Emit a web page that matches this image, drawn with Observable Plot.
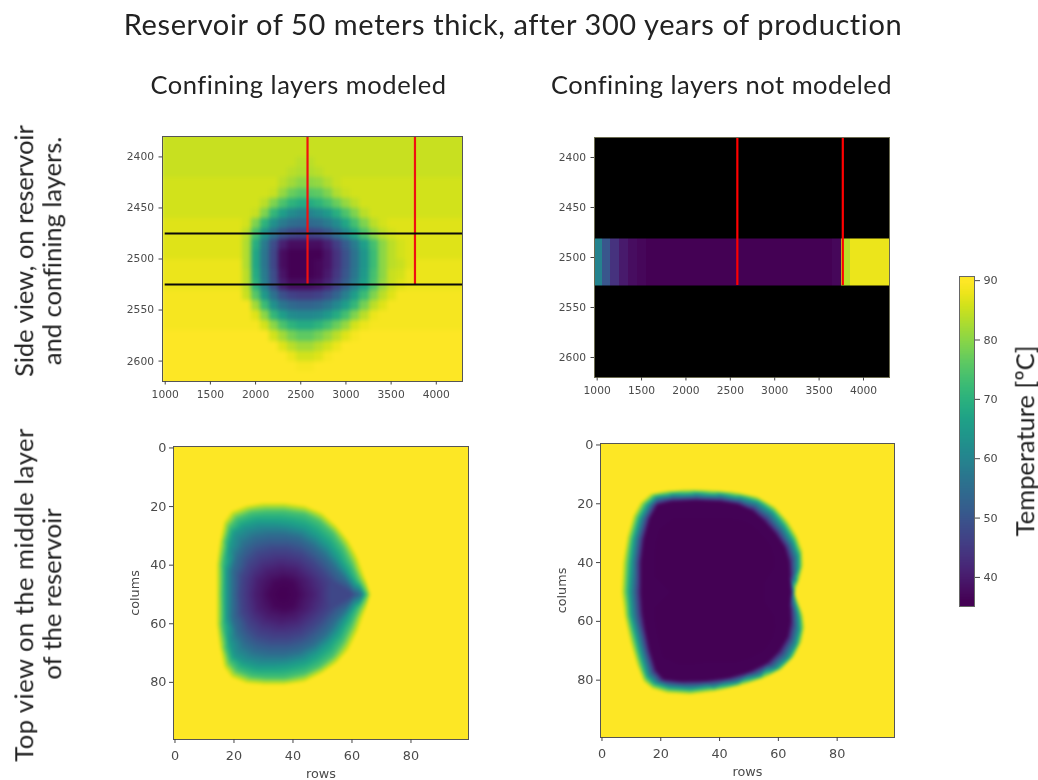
<!DOCTYPE html>
<html>
<head>
<meta charset="utf-8">
<script src="https://cdn.jsdelivr.net/npm/d3@7"></script>
<script src="https://cdn.jsdelivr.net/npm/@observablehq/plot@0.6"></script>
<style>
html,body{margin:0;padding:0;background:#fff;}
#page{position:relative;width:1038px;height:780px;overflow:hidden;color:#222;font-family:Lato,sans-serif;font-variant-ligatures:none;}
.t{position:absolute;white-space:nowrap;transform:translate(-50%,-50%);text-align:center;line-height:1;filter:blur(.35px);}
.r{transform:translate(-50%,-50%) rotate(-90deg);}
.p{position:absolute;filter:blur(.55px);}
.p svg{display:block;}
</style>
</head>
<body>
<div id="page"></div>
<script>
const title = "Reservoir of 50 meters thick, after 300 years of production";
const columnTitles = ["Confining layers modeled", "Confining layers not modeled"];
const rowTitles = [["Side view, on reservoir", "and confining layers."], ["Top view on the middle layer", "of the reservoir"]];
const colorLabel = "Temperature [ºC]";

const tempDomain = [35.1, 90.7];
const sideXDomain = [970, 4290];
const sideYDomain = [2380, 2620];
const sideXTicks = [1000, 1500, 2000, 2500, 3000, 3500, 4000];
const sideYTicks = [2400, 2450, 2500, 2550, 2600];
const topTicks = [0, 20, 40, 60, 80];
const barTicks = [40, 50, 60, 70, 80, 90];
const barTemps = [91,89,87,85,83,81,79,77,75,73,71,69,67,65,63,61,59,57,55,53,51,49,47,45,43,41,39,37,35];

const wellsModeled = [2575, 3764];
const wellsNotModeled = [2579, 3767];
const confiningLines = [2475, 2525];

// Side view, confining layers modeled: rows of 10 m from 2380, columns of 100 m from 1000 to 4300
const sideModeled = [
[86,86,86,86,86,86,86,86,86,86, 86,86,86,86,86,86,86,86,86,86, 86,86,86,86,86,86,86,86,86,86, 86,86,86,86],
[86,86,86,86,86,86,86,86,86,86, 86,86,86,86,86,86,86,86,86,86, 86,86,86,86,86,86,86,86,86,86, 86,86,86,86],
[86,86,86,86,86,86,86,86,86,86, 86,86,86,86,86,85,85,86,86,86, 86,86,86,86,86,86,86,86,86,86, 86,86,86,86],
[86,86,86,86,86,86,86,86,86,86, 86,86,86,86,85,84,84,85,86,86, 86,86,86,86,86,86,86,86,86,86, 86,86,86,86],
[87,87,87,87,87,87,87,87,87,87, 87,87,87,85,83,81,81,82,84,86, 87,87,87,87,87,87,87,87,87,87, 87,87,87,87],
[87,87,87,87,87,87,87,87,87,87, 87,87,86,82,78,76,76,77,80,84, 86,87,87,87,87,87,87,87,87,87, 87,87,87,87],
[87,87,87,87,87,87,87,87,87,87, 87,85,80,75,71,69,69,71,74,78, 82,85,87,87,87,87,87,87,87,87, 87,87,87,87],
[87,87,87,87,87,87,87,87,87,87, 86,80,72,66,62,60,60,62,65,70, 75,80,85,87,87,87,87,87,87,87, 87,87,87,87],
[88,88,88,88,88,88,88,88,88,87, 80,71,63,58,55,54,54,55,58,62, 68,74,80,85,87,88,88,88,88,88, 88,88,88,88],
[88,88,88,88,88,88,88,88,88,85, 74,64,56,50,47,46,46,47,50,55, 61,68,75,81,85,87,88,88,88,88, 88,88,88,88],
[88,88,88,88,88,88,88,88,88,84, 70,58,48,40,37,37,37,37,40,45, 51,58,66,74,81,85,87,88,88,88, 88,88,88,88],
[88,88,88,88,88,88,88,88,88,84, 68,57,47,37,35,35,35,35,38,43, 49,56,64,73,81,85,87,88,88,88, 88,88,88,88],
[89,89,89,89,89,89,89,89,89,84, 68,57,47,37,35,35,35,36,38,43, 49,56,64,73,81,85,86,88,89,89, 89,89,89,89],
[89,89,89,89,89,89,89,89,89,85, 69,58,48,38,35,35,35,36,39,44, 50,57,65,74,81,86,87,89,89,89, 89,89,89,89],
[89,89,89,89,89,89,89,89,89,85, 71,59,49,40,37,37,37,38,41,46, 52,59,67,75,82,86,88,89,89,89, 89,89,89,89],
[90,90,90,90,90,90,90,90,90,86, 76,65,56,49,46,45,45,46,49,53, 59,66,73,80,85,88,90,90,90,90, 90,90,90,90],
[90,90,90,90,90,90,90,90,90,90, 83,73,63,57,54,53,53,54,57,61, 66,72,79,85,88,90,90,90,90,90, 90,90,90,90],
[90,90,90,90,90,90,90,90,90,90, 88,81,72,66,62,61,61,62,65,69, 74,80,85,89,90,90,90,90,90,90, 90,90,90,90],
[90,90,90,90,90,90,90,90,90,90, 90,87,81,75,71,69,69,71,74,78, 82,87,89,90,90,90,90,90,90,90, 90,90,90,90],
[91,91,91,91,91,91,91,91,91,91, 91,91,87,83,79,77,77,79,82,85, 88,90,91,91,91,91,91,91,91,91, 91,91,91,91],
[91,91,91,91,91,91,91,91,91,91, 91,91,91,88,85,83,83,85,87,89, 91,91,91,91,91,91,91,91,91,91, 91,91,91,91],
[91,91,91,91,91,91,91,91,91,91, 91,91,91,91,89,87,87,88,90,91, 91,91,91,91,91,91,91,91,91,91, 91,91,91,91],
[91,91,91,91,91,91,91,91,91,91, 91,91,91,91,91,90,90,91,91,91, 91,91,91,91,91,91,91,91,91,91, 91,91,91,91],
[91,91,91,91,91,91,91,91,91,91, 91,91,91,91,91,91,91,91,91,91, 91,91,91,91,91,91,91,91,91,91, 91,91,91,91]
];

// Side view, not modeled: the reservoir band only, columns of 100 m from 1000 to 4300
const sideBandY = [2481, 2528];
const sideBand = [60,50,43,39,37,36,35,35,35,35, 35,35,35,35,35,35,35,35,35,35, 35,35,35,35,35,35,35,36,85,89, 89,89,89,89];

// Top views: isotherms, [column, row] points at each temperature
const topFrameTemps = [[-0.5,-0.5],[50,-0.5],[99.5,-0.5],[99.5,50],[99.5,99.5],[50,99.5],[-0.5,99.5],[-0.5,50]];
const topModeledLevels = [90.5, 75, 65, 55, 47, 40, 36, 35];
const topModeledRings = [
[[14,50],[14,40],[15,32],[16.5,25],[19,21.5],[24,19.5],[30,18.5],[37,18.5],[44,19.5],[50,22],[55,26.5],[59,31.5],[62,37],[64.5,44],[66.5,50],[64.5,56],[62,63],[59,69],[55,73.5],[50,77],[44,80],[37,81],[30,81],[24,80.5],[19,78.5],[16.5,75],[15,68],[14,60]],
[[16,50],[16,40],[17,32],[18.5,27],[21,24],[26,22],[31,21.5],[37,21.5],[44,22.5],[49,25],[53.5,29],[57,34],[60,40],[62.5,45.5],[65,50],[62.5,54.5],[60,60],[57,66],[53.5,71],[49,74.5],[44,77],[37,78.5],[31,78.5],[26,78],[21,76],[18.5,73],[17,68],[16,60]],
[[17.5,50],[17.5,42],[18.5,34],[20,29],[23,27],[28,25.5],[33,25.5],[38,26],[44,27.5],[48,30],[52,33.5],[55,37.5],[58,42],[61,46.5],[64,50],[61,53.5],[58,58],[55,63],[52,66.5],[48,70],[44,72.5],[38,74],[33,74.5],[28,74.5],[23,73],[20,71],[18.5,66],[17.5,58]],
[[19.5,50],[19.5,42],[21,37],[23.5,33],[27,30.5],[32,29.5],[37,29.5],[42,30.5],[47,33.5],[51,37],[54,40.5],[57.5,44.5],[63,50],[57.5,55.5],[54,59.5],[51,63.5],[47,67],[42,69.5],[37,70.5],[32,70.5],[27,69.5],[23.5,67],[21,63],[19.5,58]],
[[22,50],[22.5,44],[25,39],[28,36],[33,34.5],[38,34.5],[43,36],[47,39],[50,42],[53,45.5],[60,50],[53,54.5],[50,58],[47,61],[43,64],[38,65.5],[33,65.5],[28,64],[25,61],[22.5,56]],
[[27,50],[28,45],[31,42],[36,40.5],[41,41.5],[45,45],[47,50],[45,55],[41,58.5],[36,59.5],[31,58],[28,55]],
[[32,50],[34,46],[37,45],[40,46],[41.5,50],[40,54],[37,55],[34,54]],
[[36.5,50]]
];
const topNotModeledLevels = [90.5, 66, 35.5, 35];
const topNotModeledRings = [
[[6.5,50],[7,40],[8.5,31],[10.5,24],[13,19.5],[16.5,16.5],[22,15.5],[30,15],[38,15.3],[46,16],[53,17.5],[59,21],[63.5,26],[66.5,31],[68.3,36],[68.5,41],[67.5,45],[66,49],[65.7,50.5],[67,54],[68.5,58],[69,62],[68,67],[65.5,72],[61,76.5],[55,79.5],[47,82],[38,84],[30,85],[22,84.5],[17,83],[14,80.5],[11.5,74],[9.5,67],[7.5,58]],
[[9.4,50],[10,40],[11,32],[13,25],[15.5,20.5],[18.5,17.7],[24,16.8],[32,16.5],[40,16.8],[47,17.8],[53,19.5],[58,23],[62,28],[65,33],[66.8,38],[66.8,42],[66,46],[65.3,50.5],[66,54.5],[67,59],[67.2,63],[66,68],[63.5,72.5],[59.5,76],[54,78.5],[46,81],[38,82.5],[30,83],[23,82.5],[18,81],[15.5,78.5],[13.5,72],[12,66],[10,58]],
[[13.5,50],[13.5,40],[14.5,32],[16.5,25],[19,20.5],[24,19.3],[32,19],[40,19.3],[46,20.3],[51,22.5],[55,26],[59,30.5],[62,35],[63.5,40],[63.8,45],[64.3,50],[63.8,55],[64,60],[63,65],[60,70],[56,74],[50,77],[43,79],[35,80],[27,80.2],[21,79.5],[18.5,76.5],[16.5,70],[15,63],[14,57]],
[[40,50],[25,35],[25,65],[50,35],[50,65]]
];

const page = document.getElementById("page");
const text = (s, x, y, size, rotate, spacing = 0) => {
  const d = document.createElement("div");
  d.className = "t" + (rotate ? " r" : "");
  d.style.left = x + "px"; d.style.top = y + "px"; d.style.fontSize = size + "px";
  d.style.letterSpacing = spacing + "px";
  d.textContent = s; page.appendChild(d);
};
const color = {type: "linear", scheme: "viridis", domain: tempDomain, clamp: true};
const axisStyle = {fontFamily: "DejaVu Sans", fill: "#4a4a4a", fontSize: 10.7};
const M = {l: 55, t: 8, r: 40, b: 42};
const place = (left, top, w, h, marks, x, y) => {
  const plot = Plot.plot({
    width: w + M.l + M.r, height: h + M.t + M.b,
    marginLeft: M.l, marginTop: M.t, marginRight: M.r, marginBottom: M.b,
    x, y, color, style: {background: "transparent", color: "#4a4a4a", overflow: "visible"}, marks
  });
  const d = document.createElement("div");
  d.className = "p"; d.style.left = (left - M.l) + "px"; d.style.top = (top - M.t) + "px";
  d.appendChild(plot); page.appendChild(d);
};
const sideAxes = () => [
  Plot.axisX({ticks: sideXTicks, tickFormat: String, tickSize: 3.5, tickPadding: 5, label: null, anchor: "bottom", stroke: "#444", ...axisStyle}),
  Plot.axisY({ticks: sideYTicks, tickFormat: String, tickSize: 3.5, tickPadding: 5, label: null, anchor: "left", stroke: "#444", ...axisStyle})
];
const topStyle = {...axisStyle, fontSize: 12.8};
const topAxes = () => [
  Plot.axisX({ticks: topTicks, tickFormat: String, tickSize: 4, tickPadding: 7, anchor: "bottom", label: "rows", labelAnchor: "center", labelArrow: "none", labelOffset: 38, stroke: "#444", ...topStyle}),
  Plot.axisY({ticks: topTicks, tickFormat: String, tickSize: 4, tickPadding: 3, anchor: "left", label: "colums", labelAnchor: "center", labelArrow: "none", labelOffset: 44, stroke: "#444", ...topStyle})
];
const frame = Plot.frame({stroke: "#555", strokeWidth: 1});

// Side view, modeled: the first and last rows run on past the frame so the softening stays even at its edges
const sideRows = [sideModeled[0], ...sideModeled, sideModeled[sideModeled.length - 1]];
place(162, 136, 300, 245, [
  Plot.raster(sideRows.flat(), {width: 34, height: sideRows.length, x1: 950, x2: 4350, y1: 2370, y2: 2630, fill: d => d, clip: true, imageRendering: "pixelated", imageFilter: "blur(2px)"}),
  Plot.ruleX(wellsModeled, {x: d => d, y1: 2380, y2: 2525, stroke: "#f01010", strokeWidth: 2.2}),
  Plot.ruleY(confiningLines, {y: d => d, x1: 1000, x2: 4290, stroke: "#0a0a0a", strokeWidth: 2}),
  frame, ...sideAxes()
], {domain: sideXDomain}, {domain: sideYDomain, reverse: true});

// Side view, not modeled
place(594, 137, 295, 240, [
  Plot.frame({fill: "black"}),
  Plot.raster(sideBand, {width: 34, height: 1, x1: 950, x2: 4350, y1: sideBandY[0], y2: sideBandY[1], fill: d => d, clip: true, imageRendering: "pixelated"}),
  Plot.ruleX(wellsNotModeled, {x: d => d, y1: 2380, y2: 2528, stroke: "#ff0000", strokeWidth: 2.2}),
  Plot.frame({stroke: "#6b6b50", strokeWidth: 1}), ...sideAxes()
], {domain: [970, 4293]}, {domain: sideYDomain, reverse: true});

// Top views
const samples = (levels, rings) => [
  ...topFrameTemps.map(([x, y]) => ({x, y, t: 90.7})),
  ...rings.flatMap((ring, i) => ring.map(([x, y]) => ({x, y, t: levels[i]})))
];
const topPanel = (left, top, w, h, levels, rings, soften) => place(left, top, w, h, [
  Plot.frame({fill: "#fde725"}),
  Plot.raster(samples(levels, rings), {x: "x", y: "y", fill: "t", x1: -0.5, x2: 99.5, y1: -0.5, y2: 99.5, interpolate: "barycentric", pixelSize: 1, clip: true, imageFilter: soften}),
  frame, ...topAxes()
], {domain: [-0.5, 99.5]}, {domain: [-0.5, 99.5], reverse: true});
topPanel(173, 446, 295, 293, topModeledLevels, topModeledRings, "blur(1.5px)");
topPanel(600, 443, 294, 294, topNotModeledLevels, topNotModeledRings, "blur(1.8px)");

// Colour bar
place(959, 276, 15, 330, [
  Plot.raster(barTemps, {width: 1, height: barTemps.length, x1: 0, x2: 1, y1: tempDomain[1], y2: tempDomain[0], fill: d => d}),
  Plot.frame({stroke: "#666", strokeWidth: 1}),
  Plot.axisY({ticks: barTicks, tickFormat: String, tickSize: 5, tickPadding: 4, anchor: "right", label: null, stroke: "#444", ...axisStyle, fontSize: 11.2})
], {domain: [0, 1], axis: null}, {domain: tempDomain});

// Texts
text(title, 513, 23, 29, false, 0.6);
text(columnTitles[0], 298.5, 85, 25.5, false, 0.55);
text(columnTitles[1], 721.5, 85, 25.5, false, 0.5);
text(rowTitles[0][0], 24, 251, 25.5, true);
text(rowTitles[0][1], 52, 251, 25.5, true);
text(rowTitles[1][0], 24, 595, 25.5, true, 0.5);
text(rowTitles[1][1], 52, 594, 25.5, true);
text(colorLabel, 1024.5, 441, 25.5, true);
</script>
</body>
</html>
